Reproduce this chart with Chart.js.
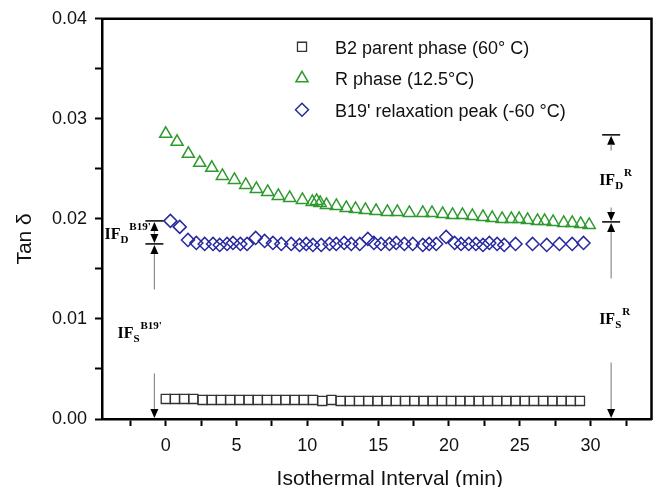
<!DOCTYPE html>
<html>
<head>
<meta charset="utf-8">
<title>Tan delta vs isothermal interval</title>
<script src="https://cdn.jsdelivr.net/npm/chart.js@4.4.1/dist/chart.umd.min.js"></script>
<style>
  html, body { margin: 0; padding: 0; background: #fff; }
  #wrap { width: 660px; height: 487px; }
</style>
</head>
<body>
<div id="wrap"><canvas id="chart" width="660" height="487"></canvas></div>
<script>
const seriesLabels = ['B2 parent phase (60° C)', 'R phase (12.5°C)', "B19' relaxation peak (-60 °C)"]

// B2 parent phase, 60 C
const b2Minutes = [0, 0.65, 1.3, 1.95, 2.6, 3.25, 3.9, 4.55, 5.2, 5.85, 6.5, 7.15, 7.8, 8.45, 9.1, 9.75,
  10.4, 11.05, 11.7, 12.35, 13.0, 13.65, 14.3, 14.95, 15.6, 16.25, 16.9, 17.55, 18.2, 18.85, 19.5,
  20.15, 20.8, 21.45, 22.1, 22.75, 23.4, 24.05, 24.7, 25.35, 26.0, 26.65, 27.3, 27.95, 28.6, 29.25]
const b2TanDelta = [0.0020, 0.0020, 0.0020, 0.0020, 0.0019, 0.0019, 0.0019, 0.0019, 0.0019, 0.0019,
  0.0019, 0.0019, 0.0019, 0.0019, 0.0019, 0.0019, 0.0019, 0.0018, 0.0019, 0.0018,
  0.0018, 0.0018, 0.0018, 0.0018, 0.0018, 0.0018, 0.0018, 0.0018, 0.0018, 0.0018,
  0.0018, 0.0018, 0.0018, 0.0018, 0.0018, 0.0018, 0.0018, 0.0018, 0.0018, 0.0018,
  0.0018, 0.0018, 0.0018, 0.0018, 0.0018, 0.0018]

// R phase, 12.5 C
const rMinutes = [0.0, 0.8, 1.6, 2.4, 3.25, 4.0, 4.85, 5.65, 6.4, 7.2,
  7.95, 8.75, 9.65, 10.35, 10.65, 10.9, 11.35, 12.05, 12.75, 13.4,
  14.1, 14.85, 15.65, 16.35, 17.2, 18.15, 18.8, 19.55, 20.25, 20.95,
  21.65, 22.4, 23.05, 23.75, 24.4, 24.95, 25.55, 26.25, 26.75, 27.35,
  28.1, 28.7, 29.3, 29.9]
const rTanDelta = [0.0285, 0.0277, 0.0265, 0.0256, 0.0251, 0.0243, 0.0239, 0.0234, 0.0230, 0.0227,
  0.0223, 0.0221, 0.0219, 0.0217, 0.0218, 0.0216, 0.0214, 0.0213, 0.0211, 0.0210,
  0.0209, 0.0208, 0.0207, 0.0207, 0.0206, 0.0206, 0.0206, 0.0205, 0.0204, 0.0204,
  0.0203, 0.0202, 0.0201, 0.0200, 0.0200, 0.0200, 0.0199, 0.0198, 0.0198, 0.0197,
  0.0196, 0.0196, 0.0195, 0.0194]

// B19' relaxation peak, -60 C
const b19Minutes = [0.33, 0.99, 1.57, 2.16, 2.75, 3.34, 3.81, 4.33, 4.75, 5.27,
  5.74, 6.35, 6.98, 7.57, 8.16, 8.86, 9.45, 9.92, 10.39, 10.98,
  11.57, 12.04, 12.6, 13.1, 13.7, 14.27, 14.7, 15.2, 15.8, 16.27,
  16.85, 17.44, 18.15, 18.6, 19.1, 19.8, 20.4, 20.85, 21.4, 21.9,
  22.4, 22.85, 23.4, 23.9, 24.7, 25.9, 26.9, 27.8, 28.7, 29.5]
const b19TanDelta = [0.0198, 0.0192, 0.0179, 0.0176, 0.0175, 0.0175, 0.0174, 0.0175, 0.0176, 0.0175,
  0.0175, 0.0181, 0.0178, 0.0176, 0.0175, 0.0175, 0.0174, 0.0175, 0.0174, 0.0174,
  0.0175, 0.0175, 0.0176, 0.0175, 0.0175, 0.0180, 0.0176, 0.0175, 0.0175, 0.0176,
  0.0175, 0.0175, 0.0174, 0.0175, 0.0175, 0.0182, 0.0176, 0.0175, 0.0175, 0.0175,
  0.0174, 0.0176, 0.0175, 0.0174, 0.0175, 0.0175, 0.0174, 0.0175, 0.0175, 0.0176]

const xTickValues = [-2.5, 0, 2.5, 5, 7.5, 10, 12.5, 15, 17.5, 20, 22.5, 25, 27.5, 30, 32.5]
const xTickLabels = ['', '0', '', '5', '', '10', '', '15', '', '20', '', '25', '', '30', '']
const yTickValues = [0, 0.005, 0.01, 0.015, 0.02, 0.025, 0.03, 0.035, 0.04]
const yTickLabels = ['0.00', '', '0.01', '', '0.02', '', '0.03', '', '0.04']

// internal friction split: [start level, stationary level]; the static part runs down to zero
const ifB19Levels = [0.0198, 0.0175]
const ifRLevels = [0.0284, 0.0197]

const SANS = '"Liberation Sans", Arial, Helvetica, sans-serif'
const SERIF = '"Liberation Serif", "Times New Roman", serif'
const INK = '#111'

const toPoints = (xs, ys) => xs.map((x, i) => ({ x, y: ys[i] }))

function cap(ctx, px, py) {
  ctx.strokeStyle = '#000'
  ctx.lineWidth = 1.5
  ctx.beginPath(); ctx.moveTo(px - 9, py); ctx.lineTo(px + 9, py); ctx.stroke()
}

// dir -1 points up, 1 points down
function head(ctx, px, tip, dir) {
  ctx.fillStyle = '#000'
  ctx.beginPath()
  ctx.moveTo(px, tip)
  ctx.lineTo(px - 4, tip - dir * 9)
  ctx.lineTo(px + 4, tip - dir * 9)
  ctx.closePath(); ctx.fill()
}

function shaft(ctx, px, y1, y2) {
  if (y2 <= y1) return
  ctx.strokeStyle = '#8c8c8c'
  ctx.lineWidth = 1.2
  ctx.beginPath(); ctx.moveTo(px, y1); ctx.lineTo(px, y2); ctx.stroke()
}

function ifLabel(ctx, lx, base, sub, sup) {
  ctx.fillStyle = '#000'
  ctx.textAlign = 'left'
  ctx.textBaseline = 'alphabetic'
  ctx.font = 'bold 16px ' + SERIF
  ctx.fillText('IF', lx, base)
  let w = ctx.measureText('IF').width
  ctx.font = 'bold 11px ' + SERIF
  ctx.fillText(sub, lx + w, base + 4)
  w += ctx.measureText(sub).width + 1
  ctx.fillText(sup, lx + w, base - 9)
}

function bracket(ctx, xs, ys, at, levels, side, sup) {
  const px = xs.getPixelForValue(at)
  const top = ys.getPixelForValue(levels[0])
  const mid = ys.getPixelForValue(levels[1])
  const zero = ys.getPixelForValue(0)
  const dMid = (top + mid) / 2
  const sMid = (mid + zero) / 2

  cap(ctx, px, top)
  head(ctx, px, top + 1, -1)
  if (side === 'left') {
    shaft(ctx, px, top + 10, mid - 10)
  } else {
    shaft(ctx, px, top + 10, dMid - 28)
    shaft(ctx, px, dMid + 29, mid - 10)
  }
  head(ctx, px, mid - 1, 1)
  cap(ctx, px, mid)
  head(ctx, px, mid + 1, -1)
  shaft(ctx, px, mid + 10, sMid - 42)
  shaft(ctx, px, sMid + 42, zero - 10)
  head(ctx, px, zero - 1, 1)

  if (side === 'left') {
    ifLabel(ctx, px - 50, dMid + 6.5, 'D', sup)
    ifLabel(ctx, px - 37, sMid + 7, 'S', sup)
  } else {
    ifLabel(ctx, px - 12, dMid + 7, 'D', sup)
    ifLabel(ctx, px - 12, sMid + 4, 'S', sup)
  }
}

const overlay = {
  id: 'overlay',
  afterDraw(chart) {
    const { ctx, chartArea: a, scales: { x, y } } = chart
    ctx.save()

    // closing frame on top and right
    ctx.strokeStyle = '#000'
    ctx.lineWidth = 2.5
    ctx.beginPath()
    ctx.moveTo(a.left - 1, a.top)
    ctx.lineTo(a.right, a.top)
    ctx.lineTo(a.right, a.bottom + 1)
    ctx.stroke()

    // legend box inside the plot
    chart.data.datasets.forEach((ds, i) => {
      const mx = a.left + 200
      const my = a.top + 28 + i * 31.5
      ctx.strokeStyle = ds.borderColor
      ctx.fillStyle = 'rgba(0,0,0,0)'
      ctx.lineWidth = ds.pointBorderWidth
      Chart.helpers.drawPoint(ctx, {
        pointStyle: ds.pointStyle, radius: ds.pointRadius, rotation: 0, borderWidth: ds.pointBorderWidth
      }, mx, my)
      ctx.fillStyle = INK
      ctx.font = '18px ' + SANS
      ctx.textAlign = 'left'
      ctx.textBaseline = 'middle'
      ctx.fillText(ds.label, a.left + 233, my + 2)
    })

    bracket(ctx, x, y, -0.8, ifB19Levels, 'left', "B19'")
    bracket(ctx, x, y, 31.45, ifRLevels, 'right', 'R')

    // axis titles
    ctx.fillStyle = INK
    ctx.font = '21px ' + SANS
    ctx.textAlign = 'center'
    ctx.textBaseline = 'middle'
    ctx.fillText('Isothermal Interval (min)', (a.left + a.right) / 2 + 13, a.bottom + 60)
    ctx.translate(25, (a.top + a.bottom) / 2 + 20)
    ctx.rotate(-Math.PI / 2)
    ctx.fillText('Tan δ', 0, 0)

    ctx.restore()
  }
}

const marker = { showLine: false, backgroundColor: 'rgba(0,0,0,0)', pointBackgroundColor: 'rgba(0,0,0,0)' }

new Chart(document.getElementById('chart'), {
  type: 'scatter',
  data: {
    datasets: [
      { ...marker, label: seriesLabels[0], data: toPoints(b2Minutes, b2TanDelta),
        pointStyle: 'rect', pointRadius: 6.4, pointBorderWidth: 1.3, borderColor: '#333', pointBorderColor: '#333' },
      { ...marker, label: seriesLabels[1], data: toPoints(rMinutes, rTanDelta),
        pointStyle: 'triangle', pointRadius: 7, pointBorderWidth: 1.5, borderColor: '#2e9a2e', pointBorderColor: '#2e9a2e' },
      { ...marker, label: seriesLabels[2], data: toPoints(b19Minutes, b19TanDelta),
        pointStyle: 'rectRot', pointRadius: 6.5, pointBorderWidth: 1.5, borderColor: '#2828a0', pointBorderColor: '#2828a0' },
    ],
  },
  options: {
    responsive: false,
    devicePixelRatio: 1,
    animation: false,
    events: [],
    layout: { padding: { top: 16, right: 8, left: 0, bottom: 0 } },
    scales: {
      x: {
        type: 'linear',
        min: -4.5,
        max: 34.3,
        afterBuildTicks: s => { s.ticks = xTickValues.map(v => ({ value: v })) },
        afterFit: s => { s.height = 68 },
        ticks: {
          autoSkip: false, maxRotation: 0, padding: 9, color: INK,
          font: { size: 18, family: SANS },
          callback: (v, i) => xTickLabels[i],
        },
        grid: { drawOnChartArea: false, color: '#000', tickLength: 7, tickWidth: 2 },
        border: { color: '#000', width: 2.5 },
      },
      y: {
        min: 0,
        max: 0.04,
        afterBuildTicks: s => { s.ticks = yTickValues.map(v => ({ value: v })) },
        afterFit: s => { s.width = 102 },
        ticks: {
          autoSkip: false, padding: 8, color: INK,
          font: { size: 18, family: SANS },
          callback: (v, i) => yTickLabels[i],
        },
        grid: { drawOnChartArea: false, color: '#000', tickLength: 7, tickWidth: 2 },
        border: { color: '#000', width: 2.5 },
      },
    },
    plugins: { legend: { display: false }, tooltip: { enabled: false } },
  },
  plugins: [overlay],
})
</script>
</body>
</html>
